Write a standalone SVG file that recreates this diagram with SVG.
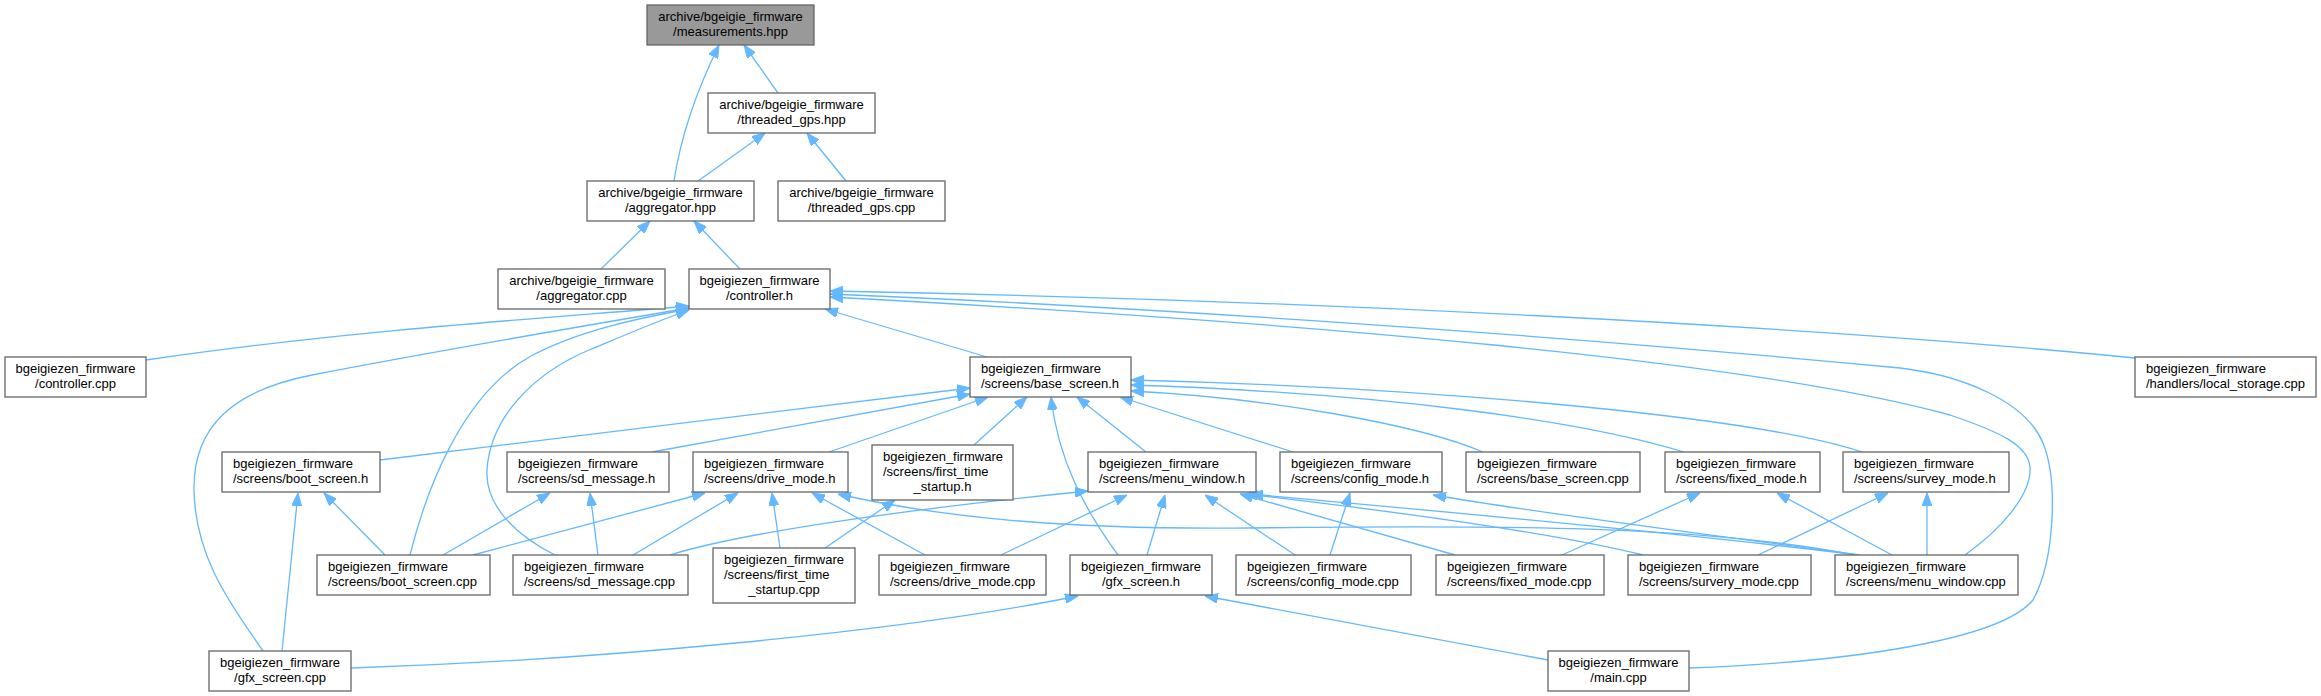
<svg xmlns="http://www.w3.org/2000/svg" width="2321" height="696" viewBox="0 0 2321 696">
<style>
.n rect{fill:#ffffff;stroke:#666666;stroke-width:1.3}
.n.hl rect{fill:#999999}
.n text{font-family:"Liberation Sans",Arial,sans-serif;font-size:13px;fill:#000000}
.c text-anchor{}
.ct{text-anchor:middle}
.e path{fill:none;stroke:#63b8ff;stroke-width:1.3;marker-end:url(#ah)}
</style>
<defs>
<marker id="ah" viewBox="0 0 13 10" refX="13" refY="5" markerWidth="13" markerHeight="10" markerUnits="userSpaceOnUse" orient="auto">
<path d="M0,0 L13,5 L0,10 z" fill="#63b8ff" stroke="#63b8ff" stroke-width="1"/>
</marker>
</defs>
<rect width="2321" height="696" fill="#ffffff"/>
<g id="edges" class="e">
<path d="M778,93 L744,45"/>
<path d="M674,181 C679,148 692,100 719,45"/>
<path d="M698,181 L765,133"/>
<path d="M846,181 L807,133"/>
<path d="M601,269 L650,221"/>
<path d="M740,269 L694,221"/>
<path d="M987,357 L825,309"/>
<path d="M146,360 C350,330 550,318 689,306"/>
<path d="M263,651 C235,610 195,560 194,490 C193,425 235,390 312,375 C430,352 560,330 689,308"/>
<path d="M410,555 C425,495 460,395 531,356 C580,330 640,318 689,309"/>
<path d="M555,555 C515,535 485,505 487,470 C490,420 530,375 589,350 C625,335 660,320 689,310"/>
<path d="M2135,358 C1800,325 1300,300 830,291"/>
<path d="M1689,668 C1850,662 2000,640 2033,600 C2055,560 2058,480 2043,443 C2025,400 1960,375 1900,368 C1500,330 1100,305 830,294"/>
<path d="M1965,555 C2000,530 2032,495 2030,467 C2028,445 2000,432 1950,415 C1750,360 1300,322 830,297"/>
<path d="M380,460 L970,388"/>
<path d="M652,452 L970,394"/>
<path d="M829,452 L988,397"/>
<path d="M974,445 L1027,397"/>
<path d="M1118,555 C1085,510 1058,460 1051,397"/>
<path d="M1146,452 L1077,397"/>
<path d="M1293,452 L1120,397"/>
<path d="M1483,452 C1420,425 1270,398 1131,391"/>
<path d="M1684,452 C1580,420 1380,393 1131,385"/>
<path d="M1862,452 C1760,418 1450,388 1131,380"/>
<path d="M385,555 L324,493"/>
<path d="M282,651 L298,493"/>
<path d="M443,555 L550,493"/>
<path d="M598,555 L590,493"/>
<path d="M473,555 L705,493"/>
<path d="M633,555 L738,493"/>
<path d="M780,548 L772,493"/>
<path d="M925,555 L812,493"/>
<path d="M1855,555 C1700,525 1500,525 1250,528 C1050,530 930,515 838,494"/>
<path d="M825,548 L895,500"/>
<path d="M670,555 C740,533 900,510 1088,491"/>
<path d="M1001,555 L1127,495"/>
<path d="M1147,555 L1165,495"/>
<path d="M1295,555 L1205,495"/>
<path d="M1455,555 L1240,494"/>
<path d="M1643,555 C1550,532 1400,512 1245,494"/>
<path d="M1858,555 C1700,535 1450,512 1250,494"/>
<path d="M1330,555 L1350,493"/>
<path d="M1860,555 C1750,540 1550,515 1433,495"/>
<path d="M1562,555 L1700,493"/>
<path d="M1892,555 L1777,493"/>
<path d="M1758,555 L1888,493"/>
<path d="M1927,555 L1927,493"/>
<path d="M351,668 C600,660 900,632 1078,596"/>
<path d="M1548,660 L1205,596"/>
</g>
<g id="n_measurements" class="n hl"><rect x="647" y="5" width="167" height="40"/><text class="ct" x="730.5" y="21">archive/bgeigie_firmware</text><text class="ct" x="730.5" y="36">/measurements.hpp</text></g>
<g id="n_threaded_gps_hpp" class="n"><rect x="708" y="93" width="167" height="40"/><text class="ct" x="791.5" y="109">archive/bgeigie_firmware</text><text class="ct" x="791.5" y="124">/threaded_gps.hpp</text></g>
<g id="n_aggregator_hpp" class="n"><rect x="587" y="181" width="167" height="40"/><text class="ct" x="670.5" y="197">archive/bgeigie_firmware</text><text class="ct" x="670.5" y="212">/aggregator.hpp</text></g>
<g id="n_threaded_gps_cpp" class="n"><rect x="778" y="181" width="167" height="40"/><text class="ct" x="861.5" y="197">archive/bgeigie_firmware</text><text class="ct" x="861.5" y="212">/threaded_gps.cpp</text></g>
<g id="n_aggregator_cpp" class="n"><rect x="498" y="269" width="167" height="40"/><text class="ct" x="581.5" y="285">archive/bgeigie_firmware</text><text class="ct" x="581.5" y="300">/aggregator.cpp</text></g>
<g id="n_controller_h" class="n"><rect x="689" y="269" width="141" height="40"/><text class="ct" x="759.5" y="285">bgeigiezen_firmware</text><text class="ct" x="759.5" y="300">/controller.h</text></g>
<g id="n_controller_cpp" class="n"><rect x="5" y="357" width="141" height="40"/><text class="ct" x="75.5" y="373">bgeigiezen_firmware</text><text class="ct" x="75.5" y="388">/controller.cpp</text></g>
<g id="n_base_screen_h" class="n"><rect x="970" y="357" width="161" height="40"/><text x="981" y="373">bgeigiezen_firmware</text><text x="981" y="388">/screens/base_screen.h</text></g>
<g id="n_local_storage_cpp" class="n"><rect x="2135" y="357" width="181" height="40"/><text x="2146" y="373">bgeigiezen_firmware</text><text x="2146" y="388">/handlers/local_storage.cpp</text></g>
<g id="n_boot_screen_h" class="n"><rect x="222" y="452" width="158" height="40"/><text x="233" y="468">bgeigiezen_firmware</text><text x="233" y="483">/screens/boot_screen.h</text></g>
<g id="n_sd_message_h" class="n"><rect x="507" y="452" width="162" height="40"/><text x="518" y="468">bgeigiezen_firmware</text><text x="518" y="483">/screens/sd_message.h</text></g>
<g id="n_drive_mode_h" class="n"><rect x="693" y="452" width="155" height="40"/><text x="704" y="468">bgeigiezen_firmware</text><text x="704" y="483">/screens/drive_mode.h</text></g>
<g id="n_first_time_startup_h" class="n"><rect x="872" y="445" width="141" height="55"/><text x="883" y="461">bgeigiezen_firmware</text><text x="883" y="476">/screens/first_time</text><text class="ct" x="942.5" y="491">_startup.h</text></g>
<g id="n_menu_window_h" class="n"><rect x="1088" y="452" width="168" height="40"/><text x="1099" y="468">bgeigiezen_firmware</text><text x="1099" y="483">/screens/menu_window.h</text></g>
<g id="n_config_mode_h" class="n"><rect x="1280" y="452" width="162" height="40"/><text x="1291" y="468">bgeigiezen_firmware</text><text x="1291" y="483">/screens/config_mode.h</text></g>
<g id="n_base_screen_cpp" class="n"><rect x="1466" y="452" width="174" height="40"/><text x="1477" y="468">bgeigiezen_firmware</text><text x="1477" y="483">/screens/base_screen.cpp</text></g>
<g id="n_fixed_mode_h" class="n"><rect x="1665" y="452" width="155" height="40"/><text x="1676" y="468">bgeigiezen_firmware</text><text x="1676" y="483">/screens/fixed_mode.h</text></g>
<g id="n_survey_mode_h" class="n"><rect x="1843" y="452" width="166" height="40"/><text x="1854" y="468">bgeigiezen_firmware</text><text x="1854" y="483">/screens/survey_mode.h</text></g>
<g id="n_boot_screen_cpp" class="n"><rect x="317" y="555" width="173" height="40"/><text x="328" y="571">bgeigiezen_firmware</text><text x="328" y="586">/screens/boot_screen.cpp</text></g>
<g id="n_sd_message_cpp" class="n"><rect x="513" y="555" width="175" height="40"/><text x="524" y="571">bgeigiezen_firmware</text><text x="524" y="586">/screens/sd_message.cpp</text></g>
<g id="n_first_time_startup_cpp" class="n"><rect x="713" y="548" width="142" height="55"/><text x="724" y="564">bgeigiezen_firmware</text><text x="724" y="579">/screens/first_time</text><text class="ct" x="784" y="594">_startup.cpp</text></g>
<g id="n_drive_mode_cpp" class="n"><rect x="879" y="555" width="167" height="40"/><text x="890" y="571">bgeigiezen_firmware</text><text x="890" y="586">/screens/drive_mode.cpp</text></g>
<g id="n_gfx_screen_h" class="n"><rect x="1070" y="555" width="142" height="40"/><text class="ct" x="1141" y="571">bgeigiezen_firmware</text><text class="ct" x="1141" y="586">/gfx_screen.h</text></g>
<g id="n_config_mode_cpp" class="n"><rect x="1236" y="555" width="175" height="40"/><text x="1247" y="571">bgeigiezen_firmware</text><text x="1247" y="586">/screens/config_mode.cpp</text></g>
<g id="n_fixed_mode_cpp" class="n"><rect x="1436" y="555" width="168" height="40"/><text x="1447" y="571">bgeigiezen_firmware</text><text x="1447" y="586">/screens/fixed_mode.cpp</text></g>
<g id="n_survery_mode_cpp" class="n"><rect x="1628" y="555" width="183" height="40"/><text x="1639" y="571">bgeigiezen_firmware</text><text x="1639" y="586">/screens/survery_mode.cpp</text></g>
<g id="n_menu_window_cpp" class="n"><rect x="1835" y="555" width="183" height="40"/><text x="1846" y="571">bgeigiezen_firmware</text><text x="1846" y="586">/screens/menu_window.cpp</text></g>
<g id="n_gfx_screen_cpp" class="n"><rect x="209" y="651" width="142" height="40"/><text class="ct" x="280" y="667">bgeigiezen_firmware</text><text class="ct" x="280" y="682">/gfx_screen.cpp</text></g>
<g id="n_main_cpp" class="n"><rect x="1548" y="651" width="141" height="40"/><text class="ct" x="1618.5" y="667">bgeigiezen_firmware</text><text class="ct" x="1618.5" y="682">/main.cpp</text></g>
</svg>
